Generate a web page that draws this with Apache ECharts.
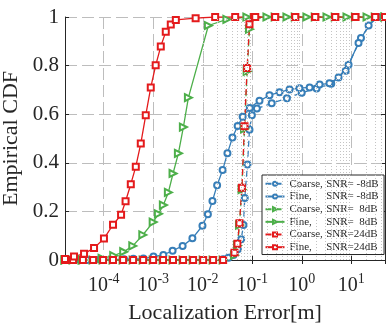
<!DOCTYPE html>
<html>
<head>
<meta charset="utf-8">
<script src="https://cdn.jsdelivr.net/npm/echarts@6/dist/echarts.min.js"></script>
<style>html,body{margin:0;padding:0;background:#fff}#chart{width:386px;height:323px}</style>
</head>
<body>
<div id="chart"></div>
<script>
// series values: [error in m, CDF]
const coarseM8 = [[1.65e-5,0],[2.4e-5,0],[3.8e-5,0],[6.1e-5,0],[9.7e-5,0],[1.54e-4,0],[2.46e-4,0],[3.92e-4,0],[6.25e-4,0],[9.96e-4,0],[1.58e-3,0],[2.51e-3,0],[4.01e-3,0],[6.39e-3,0],[1.02e-2,0],[1.62e-2,0],[2.58e-2,0.003],[0.0330,0.009],[0.0417,0.021],[0.0512,0.044],[0.0597,0.085],[0.0664,0.144],[0.0705,0.255],[0.080,0.393],[0.0879,0.536],[0.0982,0.596],[0.124,0.623],[0.247,0.645],[0.501,0.666],[0.998,0.688],[1.99,0.706],[3.94,0.725],[7.74,0.779],[15.7,0.914],[30.5,1.0],[48,1.0]];
const fineM8 = [[2.63e-5,0],[4.6e-5,0],[8.4e-5,0.002],[1.5e-4,0.002],[2.57e-4,0.003],[3.96e-4,0.005],[6.32e-4,0.006],[1.01e-3,0.014],[1.60e-3,0.021],[2.46e-3,0.038],[3.92e-3,0.058],[6.18e-3,0.089],[9.86e-3,0.141],[1.27e-2,0.188],[1.57e-2,0.243],[1.95e-2,0.308],[2.52e-2,0.370],[3.15e-2,0.439],[3.98e-2,0.504],[5.07e-2,0.551],[6.40e-2,0.589],[8.91e-2,0.626],[0.140,0.655],[0.223,0.678],[0.355,0.690],[0.566,0.702],[0.898,0.707],[1.44,0.710],[2.29,0.722],[3.62,0.727],[5.53,0.751],[8.82,0.804],[14.0,0.893],[22.4,0.965],[34.5,1.0]];
const coarse8 = [[1.65e-5,0],[2.4e-5,0],[3.8e-5,0],[6.1e-5,0],[9.7e-5,0],[1.54e-4,0],[2.46e-4,0],[3.92e-4,0],[6.25e-4,0],[9.96e-4,0],[1.58e-3,0],[2.51e-3,0],[4.01e-3,0],[6.39e-3,0],[1.02e-2,0],[1.62e-2,0],[2.58e-2,0],[0.0437,0.02],[0.0502,0.06],[0.0552,0.144],[0.0617,0.29],[0.0697,0.54],[0.0788,0.776],[0.0879,0.95],[0.109,0.995],[0.29,1],[0.738,1],[1.87,1],[4.74,1],[12.1,1],[30.5,1],[48,1]];
const fine8 = [[1.65e-5,0],[3.64e-5,0],[9.24e-5,0.007],[1.59e-4,0.018],[2.53e-4,0.034],[3.86e-4,0.058],[6.15e-4,0.103],[9.96e-4,0.156],[1.27e-3,0.19],[1.60e-3,0.226],[2.02e-3,0.278],[2.51e-3,0.356],[3.22e-3,0.439],[4.06e-3,0.547],[5.13e-3,0.668],[1.30e-2,0.965],[3.07e-2,0.99],[7.78e-2,1],[0.198,1],[0.501,1],[1.27,1],[3.23,1],[8.19,1],[20.8,1],[48,1]];
const coarse24 = [[1.65e-5,0],[2.4e-5,0],[3.8e-5,0],[6.1e-5,0],[9.7e-5,0],[1.54e-4,0],[2.46e-4,0],[3.92e-4,0],[6.25e-4,0],[9.96e-4,0],[1.58e-3,0],[2.51e-3,0],[4.01e-3,0],[6.39e-3,0],[1.02e-2,0],[1.62e-2,0],[2.58e-2,0],[0.0437,0.03],[0.0502,0.067],[0.0552,0.151],[0.0617,0.297],[0.0697,0.55],[0.0788,0.79],[0.0879,0.97],[0.109,1],[0.29,1],[0.738,1],[1.87,1],[4.74,1],[12.1,1],[30.5,1],[48,1]];
const fine24 = [[1.65e-5,0.004],[2.51e-5,0.014],[4.0e-5,0.026],[6.37e-5,0.049],[1.01e-4,0.088],[1.54e-4,0.145],[2.24e-4,0.186],[2.76e-4,0.242],[3.52e-4,0.312],[4.44e-4,0.384],[5.60e-4,0.479],[7.06e-4,0.596],[8.91e-4,0.710],[1.12e-3,0.801],[1.42e-3,0.879],[1.79e-3,0.939],[2.26e-3,0.969],[2.86e-3,0.988],[7.18e-3,0.995],[1.78e-2,1],[4.52e-2,1],[0.115,1],[0.290,1],[0.738,1],[1.87,1],[4.74,1],[12.1,1],[30.5,1],[48,1]];

const names = ['Coarse, SNR= -8dB', 'Fine, SNR= -8dB', 'Coarse, SNR=  8dB', 'Fine, SNR=  8dB', 'Coarse, SNR=24dB', 'Fine, SNR=24dB'];

const xMin = 1.65e-5, xMax = 48;
const font = 'Liberation Serif';
const ink = '#262626';
const blue = '#377eb8', green = '#4daf4a', red = '#e41a1c';

// minor grid positions 2..9 x 10^k
const minorX = [];
for (let d = -5; d <= 1; d++) {
  for (let m = 2; m <= 9; m++) {
    const v = m * Math.pow(10, d);
    if (v > xMin && v < xMax) minorX.push({ xAxis: v });
  }
}

function mkSeries(name, data, color, symbol, dashed) {
  return {
    name: name,
    type: 'line',
    data: data,
    z: 3,
    symbol: symbol,
    symbolSize: symbol === 'emptyTriangle' ? 7 : 6,
    symbolRotate: symbol === 'emptyTriangle' ? -90 : 0,
    itemStyle: { color: color, borderWidth: 1.2 },
    lineStyle: { color: color, width: 1.3, type: dashed ? [6, 4] : 'solid' },
    emphasis: { disabled: true }
  };
}

const chart = echarts.init(document.getElementById('chart'));

const xLabel = function (v) {
  const l = Math.log10(v);
  const e = Math.round(l);
  if (Math.abs(l - e) > 1e-6) return '';
  return '{b|10}{s|' + e + '}';
};

chart.setOption({
  animation: false,
  grid: { left: 65, right: 1, top: 17, bottom: 63, outerBoundsMode: 'none', containLabel: false },
  legend: {
    data: names,
    orient: 'vertical',
    left: 262,
    top: 175,
    padding: [2.5, 5.5, 1, 2.5],
    itemGap: 0,
    itemWidth: 19,
    itemHeight: 5,
    backgroundColor: '#fff',
    borderColor: ink,
    borderWidth: 1,
    borderRadius: 0,
    selectedMode: false,
    formatter: function (n) {
      const i = n.indexOf('SNR');
      return '{a|' + n.slice(0, i).trim() + '}{b|' + n.slice(i) + '}';
    },
    textStyle: {
      fontFamily: font, fontSize: 11, color: ink, lineHeight: 12.67,
      rich: {
        a: { fontFamily: font, fontSize: 11, color: ink, width: 36.7, lineHeight: 12.67 },
        b: { fontFamily: font, fontSize: 11, color: ink, lineHeight: 12.67 }
      }
    }
  },
  xAxis: [{
    type: 'log',
    logBase: 10,
    min: xMin,
    max: xMax,
    name: 'Localization Error[m]',
    nameLocation: 'middle',
    nameGap: 42,
    nameTextStyle: { fontFamily: font, fontSize: 22, color: ink },
    axisLine: { show: true, lineStyle: { color: ink, width: 1 } },
    axisTick: { show: true, inside: true, length: 4, lineStyle: { color: ink } },
    axisLabel: {
      formatter: xLabel,
      margin: 12,
      rich: {
        b: { fontFamily: font, fontSize: 20, color: ink, verticalAlign: 'bottom', padding: [4, 0, 0, 0] },
        s: { fontFamily: font, fontSize: 14, color: ink, verticalAlign: 'top' }
      }
    },
    splitLine: { show: true, lineStyle: { color: '#bdbdbd', type: [12, 5], width: 1 } }
  }, {
    type: 'log',
    logBase: 10,
    min: xMin,
    max: xMax,
    position: 'top',
    axisLine: { show: true, lineStyle: { color: ink, width: 1 } },
    axisTick: { show: true, inside: true, length: 4, lineStyle: { color: ink } },
    axisLabel: { show: false },
    splitLine: { show: false }
  }],
  yAxis: [{
    type: 'value',
    min: 0,
    max: 1,
    interval: 0.2,
    name: 'Empirical CDF',
    nameLocation: 'middle',
    nameGap: 38,
    nameTextStyle: { fontFamily: font, fontSize: 22, color: ink },
    axisLine: { show: true, lineStyle: { color: ink, width: 1 } },
    axisTick: { show: true, inside: true, length: 4, lineStyle: { color: ink } },
    axisLabel: { fontFamily: font, fontSize: 21, color: ink, margin: 6 },
    splitLine: { show: true, lineStyle: { color: '#bdbdbd', type: [12, 5], width: 1 } }
  }, {
    type: 'value',
    min: 0,
    max: 1,
    interval: 0.2,
    position: 'right',
    axisLine: { show: true, lineStyle: { color: ink, width: 1 } },
    axisTick: { show: true, inside: true, length: 4, lineStyle: { color: ink } },
    axisLabel: { show: false },
    splitLine: { show: false }
  }],
  series: [
    {
      type: 'line',
      data: [],
      z: 1,
      silent: true,
      markLine: {
        silent: true,
        symbol: 'none',
        animation: false,
        label: { show: false },
        lineStyle: { type: [1, 2], color: '#c4c4c4', width: 1 },
        data: minorX
      }
    },
    mkSeries(names[0], coarseM8, blue, 'emptyCircle', true),
    mkSeries(names[1], fineM8, blue, 'emptyCircle', false),
    mkSeries(names[2], coarse8, green, 'emptyTriangle', true),
    mkSeries(names[3], fine8, green, 'emptyTriangle', false),
    mkSeries(names[4], coarse24, red, 'emptyRect', true),
    mkSeries(names[5], fine24, red, 'emptyRect', false)
  ]
});
</script>
</body>
</html>
